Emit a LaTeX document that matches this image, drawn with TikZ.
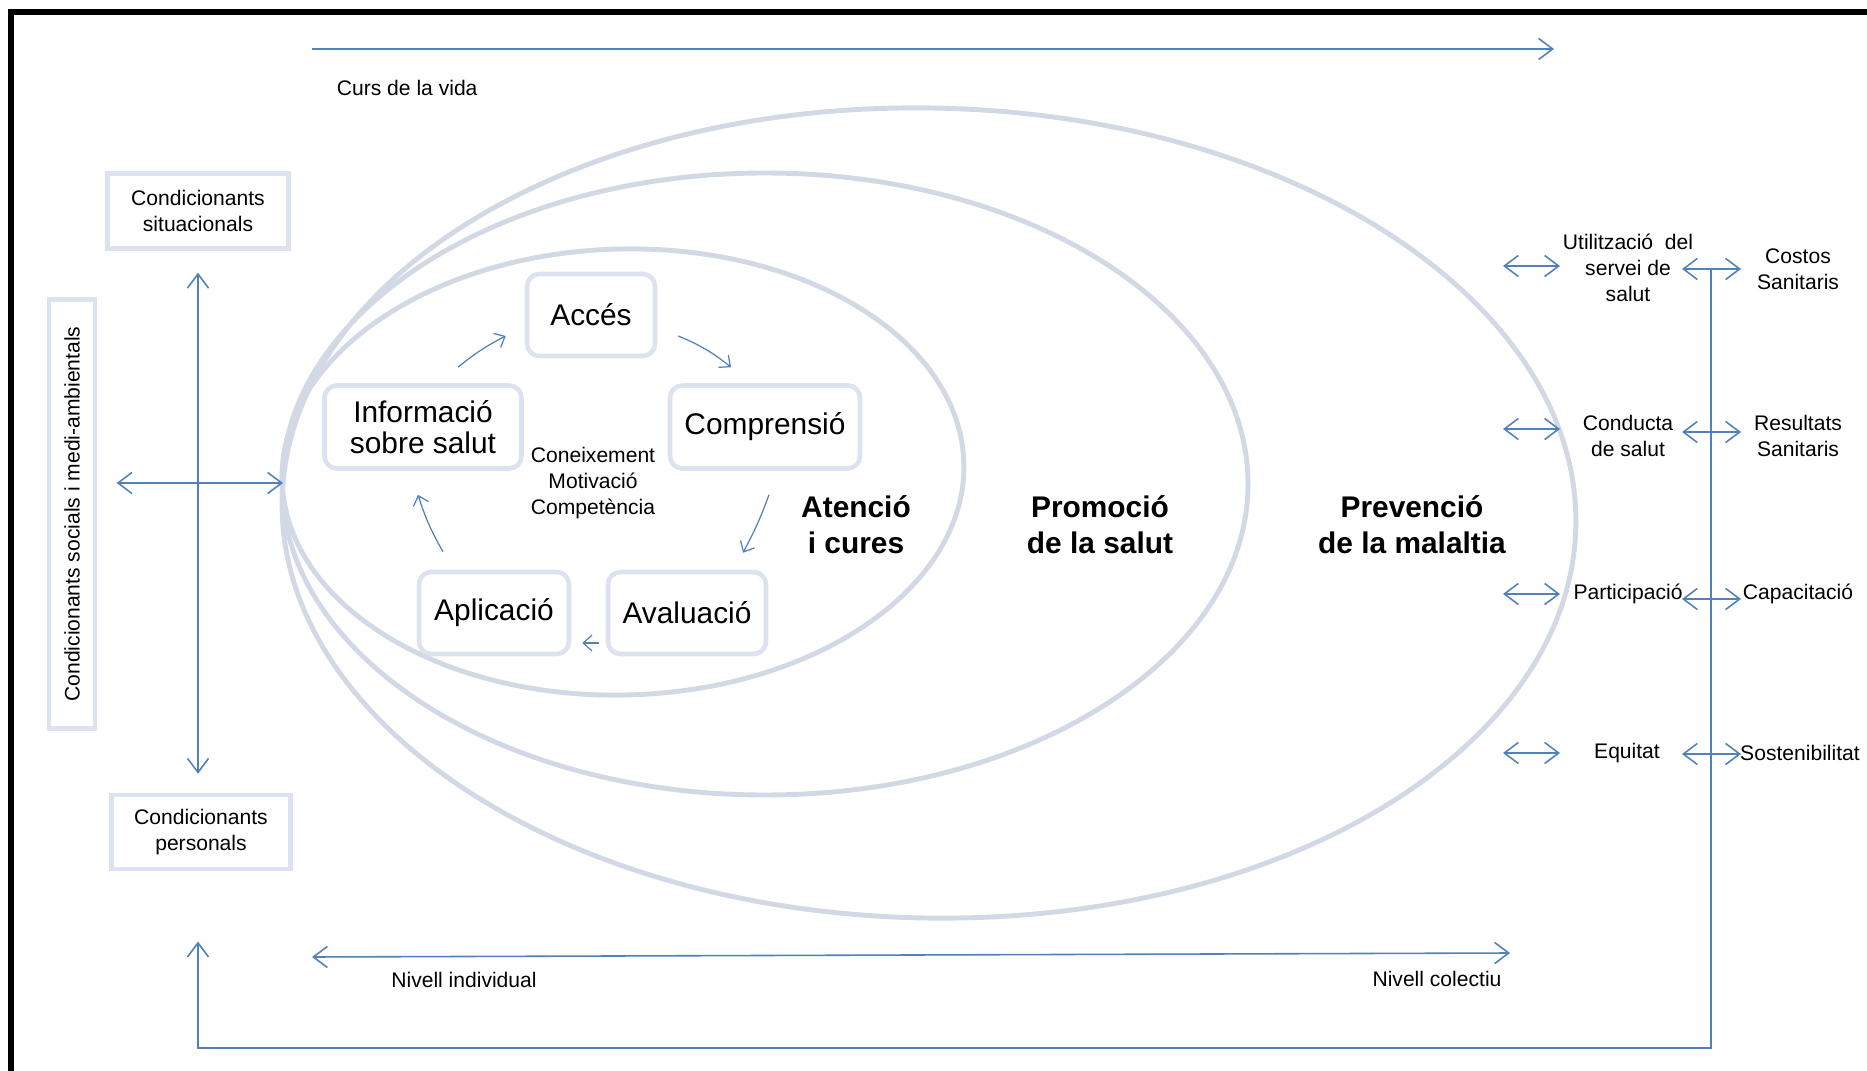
\documentclass[tikz,border=0pt]{standalone}
\usepackage{fontspec}
\setmainfont{Liberation Sans}
\usepackage{xcolor}
\usepackage{tikz}
\usetikzlibrary{arrows.meta, positioning, calc}
\definecolor{arrowblue}{RGB}{79,129,189}
\definecolor{ringgray}{RGB}{210,217,228}
\definecolor{boxline}{RGB}{220,226,239}
\tikzset{
  condbox/.style={rectangle, draw=boxline, line width=2.6pt, fill=white,
    align=center, inner sep=0pt, font=\fontsize{12}{14.7}\selectfont},
  stepbox/.style={rectangle, rounded corners=7pt, draw=boxline, line width=2.6pt,
    fill=white, align=center, inner sep=0pt, font=\fontsize{17}{18}\selectfont},
  ring/.style={draw=ringgray, line width=2.8pt},
  ringlabel/.style={align=center, font=\fontsize{17}{20.4}\selectfont\bfseries},
  smalltext/.style={align=center, inner sep=2pt, font=\fontsize{12}{14.7}\selectfont},
  openarrow/.style={-{Straight Barb[length=8pt, width=12pt]}, line width=0.9pt, color=arrowblue},
  bothways/.style={{Straight Barb[length=8pt, width=12pt]}-{Straight Barb[length=8pt, width=12pt]},
    line width=0.9pt, color=arrowblue},
  cyclearrow/.style={-{Straight Barb[length=5pt, width=9pt]}, line width=0.7pt, color=arrowblue},
}

\begin{document}
\begin{tikzpicture}[x=0.02cm, y=-0.02cm]
  \useasboundingbox (0,0) rectangle (1867,1071);
  \draw[line width=3.4pt, line join=miter] (11,1071) -- (11,12) -- (1867,12);

  % rings
  \draw[ring, rotate around={-1.2:(929,513)}] (929,513) ellipse [x radius=647, y radius=405];
  \draw[ring] (765,484) ellipse [x radius=483, y radius=311];
  \draw[ring, rotate around={1.5:(623,472)}] (623,472) ellipse [x radius=341, y radius=223];

  \node[ringlabel] (atencio) at (856,525) {Atenció\\i cures};
  \node[ringlabel] (promocio) at (1100,525) {Promoció\\de la salut};
  \node[ringlabel] (prevencio) at (1412,525) {Prevenció\\de la malaltia};

  % cycle
  \node[stepbox, minimum width=2.56cm, minimum height=1.64cm] (acces) at (591,315) {Accés};
  \node[stepbox, minimum width=3.8cm, minimum height=1.66cm] (compr) at (765,427) {Comprensió};
  \node[stepbox, minimum width=3.94cm, minimum height=1.66cm] (info) at (423,427) {Informació\\sobre salut};
  \node[stepbox, minimum width=3.16cm, minimum height=1.64cm] (aval) at (687,613) {Avaluació};
  \node[stepbox, minimum width=3.0cm, minimum height=1.64cm] (aplic) at (494,613) {Aplicació};
  \node[smalltext] (cmc) at (593,483) {Coneixement\\Motivació\\Competència};

  \draw[cyclearrow] ([shift={(35,-16)}]info.north) to[bend left=6] ([shift={(-19,21)}]acces.west);
  \draw[cyclearrow] ([shift={(21,21)}]acces.east) to[bend left=8] ([shift={(-34,-16)}]compr.north);
  \draw[cyclearrow] ([shift={(4,24)}]compr.south) to[bend left=4] ([shift={(56,-17)}]aval.north);
  \draw[cyclearrow] ([shift={(-7,30)}]aval.west) -- ([shift={(11,30)}]aplic.east);
  \draw[cyclearrow] ([shift={(-51,-18)}]aplic.north) to[bend left=6] ([shift={(-5,24)}]info.south);

  % conditioning factors
  \node[condbox, minimum width=3.62cm, minimum height=1.5cm] (sit) at (198,211) {Condicionants\\situacionals};
  \node[condbox, minimum width=3.58cm, minimum height=1.48cm] (pers) at (201,832) {Condicionants\\personals};
  \node[condbox, rotate=90, minimum width=8.58cm, minimum height=0.92cm] (soc) at (72,514)
    {Condicionants socials i medi-ambientals};

  \coordinate (tang) at (283,483);
  \draw[bothways, shorten <=12.5pt, shorten >=10.8pt] (sit.south) -- (sit.south |- pers.north);
  \draw[bothways, shorten <=11pt] (soc.south |- tang) -- (tang);

  \coordinate (vtop) at (1711,268);
  \coordinate (vcorner) at (1711,1048);
  \draw[openarrow, shorten >=40pt] (vtop) -- (vcorner) -| (sit.south |- pers.south);

  % levels
  \coordinate (nind) at (312,957);
  \coordinate (ncol) at (1510,953);
  \draw[bothways] (nind) -- (ncol);
  \node[smalltext] (indiv) at (464,980) {Nivell individual};
  \node[smalltext] (colec) at (1437,979) {Nivell colectiu};

  \coordinate (cstart) at (312,49);
  \coordinate (cend) at (1554,49);
  \draw[openarrow] (cstart) -- (cend);
  \node[smalltext, anchor=west] (curs) at (333,88) {Curs de la vida};

  % outcomes
  \node[smalltext] (util) at (1628,268) {Utilització\ \ del\\servei de\\salut};
  \node[smalltext] (cond) at (1628,436) {Conducta\\de salut};
  \node[smalltext] (part) at (1628,594) {Participació};
  \node[smalltext] (equi) at (1627,753) {Equitat};
  \node[smalltext] (cost) at (1798,269) {Costos\\Sanitaris};
  \node[smalltext] (resu) at (1798,436) {Resultats\\Sanitaris};
  \node[smalltext] (capa) at (1798,594) {Capacitació};
  \node[smalltext] (sost) at (1800,753) {Sostenibilitat};

  \foreach \y/\n in {266/1, 429/2, 594/3, 753/4} {
    \coordinate (pl\n) at (1503,\y);
    \coordinate (pr\n) at (1560,\y);
    \draw[bothways] (pl\n) -- (pr\n);
  }
  \foreach \y/\n in {269/1, 432/2, 599/3, 754/4} {
    \coordinate (ql\n) at (1682,\y);
    \coordinate (qr\n) at (1741,\y);
    \draw[bothways] (ql\n) -- (qr\n);
  }
\end{tikzpicture}
\end{document}
